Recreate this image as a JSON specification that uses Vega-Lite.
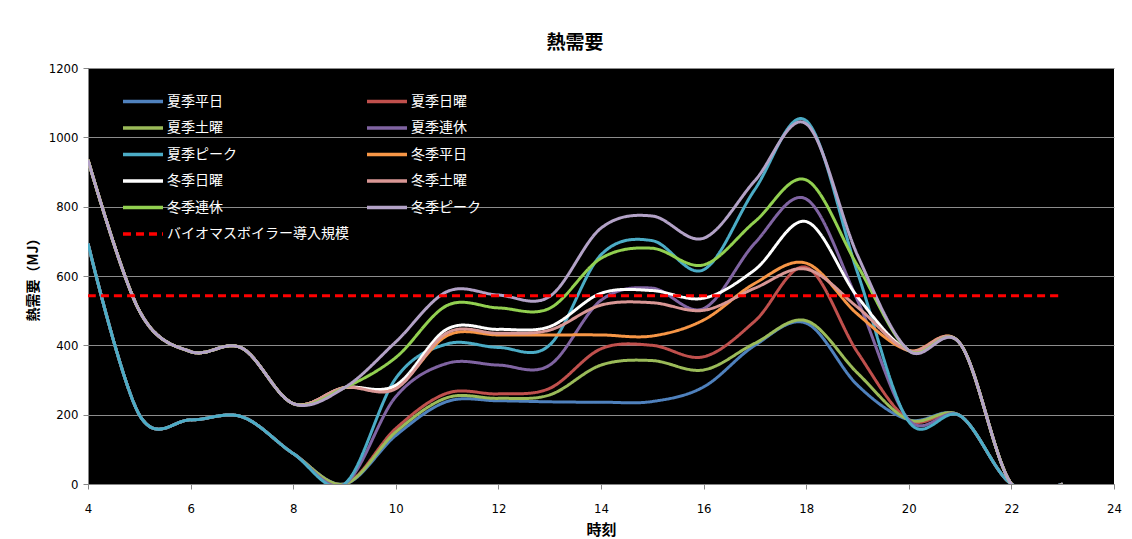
{
  "$schema": "https://vega.github.io/schema/vega-lite/v6.json",
  "width": 1026,
  "height": 416,
  "autosize": {"type": "none"},
  "padding": {"left": 88, "top": 68, "right": 18, "bottom": 55},
  "background": "white",
  "config": {"view": {"fill": "black", "stroke": null}},
  "title": {
    "text": "熱需要",
    "font": "Noto Sans CJK JP",
    "fontSize": 19,
    "fontWeight": "bold",
    "color": "black",
    "anchor": "middle",
    "dx": -26,
    "offset": 9
  },
  "data": {
    "values": [
      {"時刻": 4, "夏季平日": 694, "夏季日曜": 694, "夏季土曜": 694, "夏季連休": 694, "夏季ピーク": 694, "冬季平日": 935, "冬季日曜": 935, "冬季土曜": 935, "冬季連休": 935, "冬季ピーク": 935, "バイオマスボイラー導入規模": 543},
      {"時刻": 5, "夏季平日": 200, "夏季日曜": 200, "夏季土曜": 200, "夏季連休": 200, "夏季ピーク": 200, "冬季平日": 500, "冬季日曜": 500, "冬季土曜": 500, "冬季連休": 500, "冬季ピーク": 500, "バイオマスボイラー導入規模": 543},
      {"時刻": 6, "夏季平日": 185, "夏季日曜": 185, "夏季土曜": 185, "夏季連休": 185, "夏季ピーク": 185, "冬季平日": 382, "冬季日曜": 382, "冬季土曜": 382, "冬季連休": 382, "冬季ピーク": 382, "バイオマスボイラー導入規模": 543},
      {"時刻": 7, "夏季平日": 194, "夏季日曜": 194, "夏季土曜": 194, "夏季連休": 194, "夏季ピーク": 194, "冬季平日": 392, "冬季日曜": 392, "冬季土曜": 392, "冬季連休": 392, "冬季ピーク": 392, "バイオマスボイラー導入規模": 543},
      {"時刻": 8, "夏季平日": 88, "夏季日曜": 88, "夏季土曜": 88, "夏季連休": 88, "夏季ピーク": 88, "冬季平日": 232, "冬季日曜": 232, "冬季土曜": 232, "冬季連休": 232, "冬季ピーク": 232, "バイオマスボイラー導入規模": 543},
      {"時刻": 9, "夏季平日": 0, "夏季日曜": 0, "夏季土曜": 0, "夏季連休": 0, "夏季ピーク": 0, "冬季平日": 278, "冬季日曜": 278, "冬季土曜": 278, "冬季連休": 278, "冬季ピーク": 278, "バイオマスボイラー導入規模": 543},
      {"時刻": 10, "夏季平日": 140, "夏季日曜": 160, "夏季土曜": 150, "夏季連休": 252, "夏季ピーク": 305, "冬季平日": 280, "冬季日曜": 285, "冬季土曜": 275, "冬季連休": 365, "冬季ピーク": 410, "バイオマスボイラー導入規模": 543},
      {"時刻": 11, "夏季平日": 238, "夏季日曜": 262, "夏季土曜": 249, "夏季連休": 348, "夏季ピーク": 404, "冬季平日": 428, "冬季日曜": 447, "冬季土曜": 436, "冬季連休": 515, "冬季ピーク": 555, "バイオマスボイラー導入規模": 543},
      {"時刻": 12, "夏季平日": 240, "夏季日曜": 260, "夏季土曜": 247, "夏季連休": 343, "夏季ピーク": 394, "冬季平日": 430, "冬季日曜": 446, "冬季土曜": 435, "冬季連休": 508, "冬季ピーク": 545, "バイオマスボイラー導入規模": 543},
      {"時刻": 13, "夏季平日": 237, "夏季日曜": 276, "夏季土曜": 257, "夏季連休": 343, "夏季ピーク": 401, "冬季平日": 430, "冬季日曜": 454, "冬季土曜": 444, "冬季連休": 507, "冬季ピーク": 541, "バイオマスボイラー導入規模": 543},
      {"時刻": 14, "夏季平日": 236, "夏季日曜": 390, "夏季土曜": 343, "夏季連休": 530, "夏季ピーク": 661, "冬季平日": 430, "冬季日曜": 550, "冬季土曜": 516, "冬季連休": 651, "冬季ピーク": 738, "バイオマスボイラー導入規模": 543},
      {"時刻": 15, "夏季平日": 238, "夏季日曜": 400, "夏季土曜": 356, "夏季連休": 565, "夏季ピーク": 702, "冬季平日": 427, "冬季日曜": 558, "冬季土曜": 523, "冬季連休": 680, "冬季ピーク": 773, "バイオマスボイラー導入規模": 543},
      {"時刻": 16, "夏季平日": 280, "夏季日曜": 367, "夏季土曜": 329, "夏季連休": 506, "夏季ピーク": 618, "冬季平日": 473, "冬季日曜": 536, "冬季土曜": 501, "冬季連休": 632, "冬季ピーク": 709, "バイオマスボイラー導入規模": 543},
      {"時刻": 17, "夏季平日": 400, "夏季日曜": 470, "夏季土曜": 406, "夏季連休": 695, "夏季ピーク": 850, "冬季平日": 579, "冬季日曜": 618, "冬季土曜": 565, "冬季連休": 757, "冬季ピーク": 875, "バイオマスボイラー導入規模": 543},
      {"時刻": 18, "夏季平日": 464, "夏季日曜": 625, "夏季土曜": 471, "夏季連休": 822, "夏季ピーク": 1048, "冬季平日": 637, "冬季日曜": 757, "冬季土曜": 620, "冬季連休": 877, "冬季ピーク": 1039, "バイオマスボイラー導入規模": 543},
      {"時刻": 19, "夏季平日": 285, "夏季日曜": 380, "夏季土曜": 320, "夏季連休": 530, "夏季ピーク": 610, "冬季平日": 490, "冬季日曜": 540, "冬季土曜": 510, "冬季連休": 630, "冬季ピーク": 660, "バイオマスボイラー導入規模": 543},
      {"時刻": 20, "夏季平日": 185, "夏季日曜": 185, "夏季土曜": 185, "夏季連休": 185, "夏季ピーク": 180, "冬季平日": 385, "冬季日曜": 385, "冬季土曜": 385, "冬季連休": 385, "冬季ピーク": 385, "バイオマスボイラー導入規模": 543},
      {"時刻": 21, "夏季平日": 197, "夏季日曜": 197, "夏季土曜": 197, "夏季連休": 197, "夏季ピーク": 197, "冬季平日": 405, "冬季日曜": 405, "冬季土曜": 405, "冬季連休": 405, "冬季ピーク": 405, "バイオマスボイラー導入規模": 543},
      {"時刻": 22, "夏季平日": 0, "夏季日曜": 0, "夏季土曜": 0, "夏季連休": 0, "夏季ピーク": 0, "冬季平日": 0, "冬季日曜": 0, "冬季土曜": 0, "冬季連休": 0, "冬季ピーク": 0, "バイオマスボイラー導入規模": 543},
      {"時刻": 23, "夏季平日": 0, "夏季日曜": 0, "夏季土曜": 0, "夏季連休": 0, "夏季ピーク": 0, "冬季平日": 0, "冬季日曜": 0, "冬季土曜": 0, "冬季連休": 0, "冬季ピーク": 0, "バイオマスボイラー導入規模": 543}
    ]
  },
  "transform": [
    {
      "fold": ["夏季平日", "夏季日曜", "夏季土曜", "夏季連休", "夏季ピーク", "冬季平日", "冬季日曜", "冬季土曜", "冬季連休", "冬季ピーク", "バイオマスボイラー導入規模"],
      "as": ["系列", "熱需要"]
    }
  ],
  "mark": {"type": "line", "interpolate": "cardinal", "tension": 0, "strokeWidth": 3, "clip": true},
  "encoding": {
    "x": {
      "field": "時刻",
      "type": "quantitative",
      "scale": {"domain": [4, 24], "nice": false, "zero": false},
      "axis": {
        "values": [4, 6, 8, 10, 12, 14, 16, 18, 20, 22, 24],
        "format": "d",
        "grid": false,
        "title": "時刻",
        "titleFont": "Noto Sans CJK JP",
        "titleFontSize": 15,
        "titleFontWeight": "bold",
        "titleColor": "black",
        "titlePadding": 7,
        "labelFont": "DejaVu Sans Condensed, Liberation Sans",
        "labelFontSize": 13,
        "labelColor": "black",
        "labelPadding": 13,
        "labelFlush": false,
        "domainColor": "#868686",
        "tickColor": "#868686",
        "tickSize": 5
      }
    },
    "y": {
      "field": "熱需要",
      "type": "quantitative",
      "scale": {"domain": [0, 1200], "nice": false},
      "axis": {
        "values": [0, 200, 400, 600, 800, 1000, 1200],
        "format": "d",
        "grid": true,
        "gridColor": "#8c8c8c",
        "gridWidth": 1,
        "title": "熱需要（MJ）",
        "titleFont": "Noto Sans CJK JP",
        "titleFontSize": 14,
        "titleFontWeight": "bold",
        "titleColor": "black",
        "titlePadding": 8,
        "labelFont": "DejaVu Sans Condensed, Liberation Sans",
        "labelFontSize": 13,
        "labelColor": "black",
        "labelPadding": 5,
        "domainColor": "#868686",
        "tickColor": "#868686",
        "tickSize": 5
      }
    },
    "color": {
      "field": "系列",
      "type": "nominal",
      "scale": {
        "domain": ["夏季平日", "夏季日曜", "夏季土曜", "夏季連休", "夏季ピーク", "冬季平日", "冬季日曜", "冬季土曜", "冬季連休", "冬季ピーク", "バイオマスボイラー導入規模"],
        "range": ["#4F81BD", "#C0504D", "#9BBB59", "#8064A2", "#4BACC6", "#F79646", "#FFFFFF", "#D99795", "#92D050", "#B3A2C7", "#FF0000"]
      },
      "legend": {
        "title": null,
        "orient": "none",
        "legendX": 43,
        "legendY": 21.5,
        "direction": "horizontal",
        "columns": 2,
        "columnPadding": 11,
        "rowPadding": 7.5,
        "symbolType": "M-2,0H2",
        "symbolSize": 400,
        "symbolStrokeWidth": 3.5,
        "labelFont": "Noto Sans CJK JP",
        "labelFontSize": 14,
        "labelColor": "white",
        "labelOffset": 12,
        "labelLimit": 300,
        "padding": 0
      }
    },
    "strokeDash": {
      "field": "系列",
      "type": "nominal",
      "scale": {
        "domain": ["夏季平日", "夏季日曜", "夏季土曜", "夏季連休", "夏季ピーク", "冬季平日", "冬季日曜", "冬季土曜", "冬季連休", "冬季ピーク", "バイオマスボイラー導入規模"],
        "range": [[1, 0], [1, 0], [1, 0], [1, 0], [1, 0], [1, 0], [1, 0], [1, 0], [1, 0], [1, 0], [8, 5]]
      },
      "legend": {
        "title": null,
        "orient": "none",
        "legendX": 43,
        "legendY": 21.5,
        "direction": "horizontal",
        "columns": 2,
        "columnPadding": 11,
        "rowPadding": 7.5,
        "symbolType": "M-2,0H2",
        "symbolSize": 400,
        "symbolStrokeWidth": 3.5,
        "labelFont": "Noto Sans CJK JP",
        "labelFontSize": 14,
        "labelColor": "white",
        "labelOffset": 12,
        "labelLimit": 300,
        "padding": 0
      }
    }
  }
}
